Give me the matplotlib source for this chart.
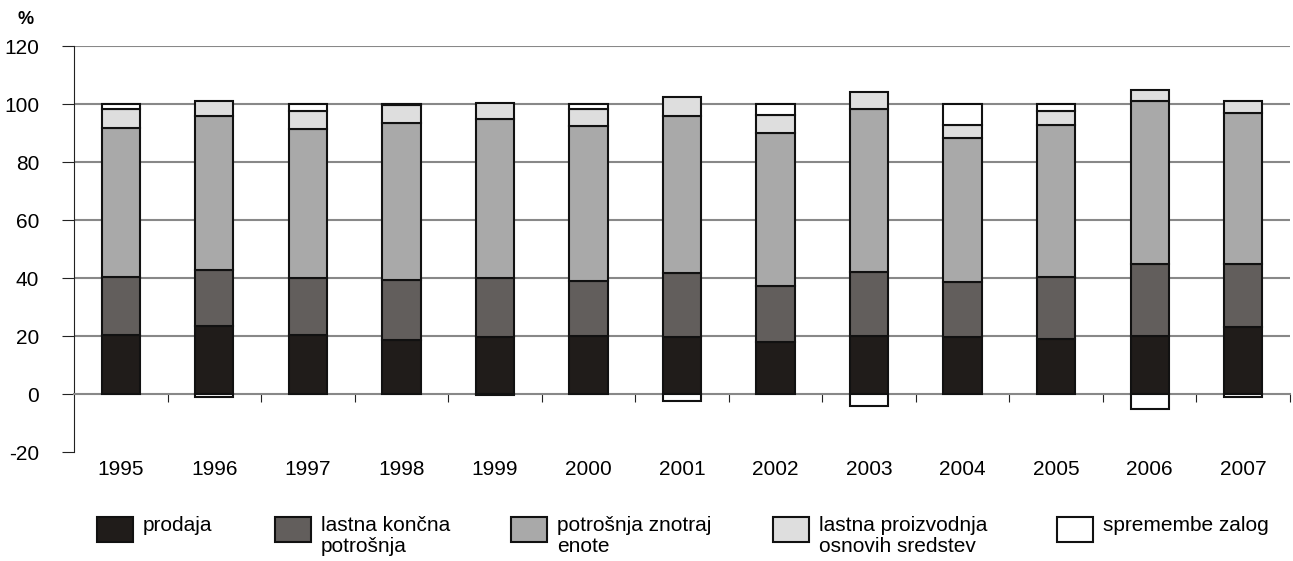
import numpy as np
import matplotlib
matplotlib.use('Agg')
import matplotlib.pyplot as plt
from matplotlib.patches import Rectangle

plt.rcParams['font.family'] = ['Liberation Sans', 'DejaVu Sans']
plt.rcParams['axes.unicode_minus'] = False

years = ['1995', '1996', '1997', '1998', '1999', '2000', '2001',
         '2002', '2003', '2004', '2005', '2006', '2007']
prodaja = [20.5, 23.6, 20.5, 18.5, 19.7, 20.0, 19.7, 18.0, 20.0, 19.7, 19.0, 20.0, 23.0]
lastna_koncna = [20.0, 19.2, 19.5, 20.8, 20.3, 19.0, 21.9, 19.4, 22.0, 18.9, 21.3, 25.0, 22.0]
potrosnja_enote = [51.3, 53.2, 51.5, 54.3, 55.0, 53.3, 54.4, 52.6, 56.3, 49.7, 52.5, 55.9, 52.0]
lastna_proizvodnja = [6.5, 5.0, 6.0, 5.9, 5.5, 6.0, 6.5, 6.3, 5.7, 4.6, 4.7, 4.0, 3.9]
spremembe_zalog = [1.7, -1.0, 2.5, 0.5, -0.5, 1.7, -2.5, 3.7, -4.0, 7.1, 2.5, -5.0, -0.9]

series = [prodaja, lastna_koncna, potrosnja_enote, lastna_proizvodnja, spremembe_zalog]
labels = ['prodaja', 'lastna končna\npotrošnja', 'potrošnja znotraj\nenote',
          'lastna proizvodnja\nosnovih sredstev', 'spremembe zalog']
colors = ['#201c1a', '#625e5c', '#a9a9a9', '#dedede', '#ffffff']

W, H = 1293, 561
fig = plt.figure(figsize=(W / 100, H / 100), dpi=100)
ax = fig.add_axes([74 / W, 1 - 452 / H, (1290 - 74) / W, (452 - 46) / H])

x = np.arange(len(years))
pos = np.zeros(len(years))
neg = np.zeros(len(years))
for vals, c in zip(series, colors):
    v = np.array(vals)
    bottom = np.where(v >= 0, pos, neg)
    ax.bar(x, v, 0.41, bottom=bottom, color=c, edgecolor='#111111', linewidth=1.5, zorder=3)
    pos = pos + np.where(v >= 0, v, 0)
    neg = neg + np.where(v < 0, v, 0)

ax.set_xlim(-0.5, len(years) - 0.5)
ax.set_ylim(-20, 120)
ax.set_yticks(np.arange(-20, 121, 20))
for yv in range(20, 121, 20):
    ax.axhline(yv, color='#888888', linewidth=1.5, zorder=1)

for s in ['top', 'right']:
    ax.spines[s].set_visible(False)
ax.spines['left'].set_color('#222222')
ax.spines['bottom'].set_position(('data', 0))
ax.spines['bottom'].set_color('#888888')
ax.spines['bottom'].set_linewidth(1.5)

# category ticks on the zero line, labels at the bottom of the plot
ax.set_xticks(np.arange(0.5, len(years), 1))
ax.set_xticklabels([])
ax.tick_params(axis='x', length=6, color='#222222', direction='out')
for i, yr in enumerate(years):
    ax.annotate(yr, (i, -20), xytext=(0, -6), textcoords='offset points',
                ha='center', va='top', fontsize=15, annotation_clip=False)
ax.tick_params(axis='y', length=9, color='#222222', pad=16, labelsize=15)

fig.text(17 / W, 1 - 20 / H, '%', fontsize=13, fontweight='bold', va='center', ha='left')

# legend drawn by hand along the bottom
box_x = [97, 275, 511, 773, 1057]
for bx, c, lab in zip(box_x, colors, labels):
    fig.patches.append(Rectangle((bx / W, 1 - 542 / H), 36 / W, 25 / H,
                                 transform=fig.transFigure, facecolor=c,
                                 edgecolor='#111111', linewidth=1.5))
    fig.text((bx + 46) / W, 1 - 516 / H, lab, fontsize=15, va='top', ha='left',
             linespacing=1.1)

fig.savefig('out.png', dpi=100)
